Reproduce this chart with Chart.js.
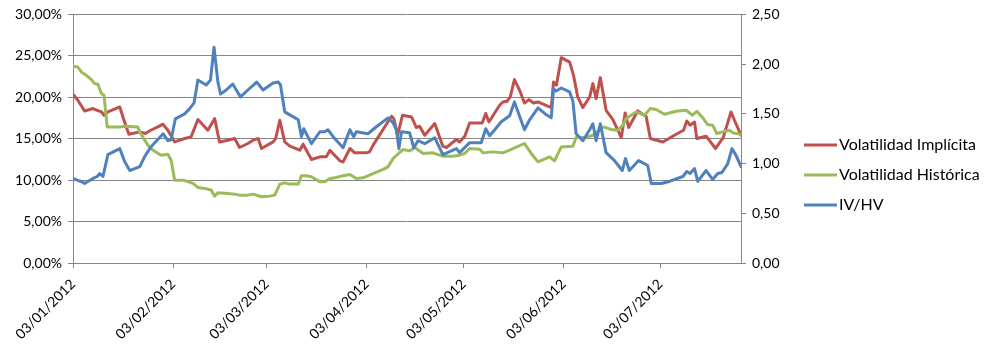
<!DOCTYPE html>
<html>
<head>
<meta charset="utf-8">
<script src="https://cdn.jsdelivr.net/npm/chart.js@4"></script>
<style>
  html, body { margin: 0; padding: 0; background: #fff; }
  #wrap { width: 989px; height: 351px; }
</style>
</head>
<body>
<div id="wrap"><canvas id="volChart" width="989" height="351"></canvas></div>
<script>
// Eje X: días desde el 03/01/2012
const tickDays = [0, 31, 60, 91, 121, 152, 182];
const tickLabels = ['03/01/2012', '03/02/2012', '03/03/2012', '03/04/2012', '03/05/2012', '03/06/2012', '03/07/2012'];

// Volatilidad Implícita (%)
const ivDays = [0,1.5,3.6,6.2,7.5,8.8,9.6,10.8,14.5,15.8,17.3,20.7,22.4,24.1,26.3,27.9,29.4,31.5,34.6,36.6,
  38.7,41.8,43.9,45.4,48,50.1,51.6,54.2,55.8,57.4,58.4,62,62.8,64.1,65.6,67.2,70.3,71.3,73.9,76.5,
  78.5,79.6,82.7,83.7,85.8,87.3,90.9,91.9,93,98.7,99.4,100.6,102.1,104.9,106.4,107.4,109,112.1,114.6,115.7,
  118.8,119.8,121.4,122.9,126.8,127.9,128.9,132.2,133.2,134.5,135.5,136.8,138.4,139.9,141.3,142.7,144.1,148.2,148.9,149.8,
  151.3,153.9,155.1,156.4,158,160.1,161.1,162.1,163.4,165.2,167.3,169.9,171.1,172.2,175,177.6,178.9,182.8,186.9,189.2,
  190.2,191.2,192.6,193.3,196.2,199.1,201.5,203.9,205.2,207];
const ivVals = [20.36,19.64,18.35,18.64,18.43,18.23,17.83,18.23,18.83,17.23,15.54,15.82,15.63,16.02,16.42,16.75,16.02,14.61,15.02,15.22,
  17.31,16.02,17.43,14.61,14.82,15.02,13.94,14.42,14.82,15.02,13.82,14.61,15.02,17.23,14.61,14.10,13.61,14.34,12.49,12.81,
  12.81,13.61,12.33,12.20,13.82,13.29,13.29,13.41,14.22,17.71,17.43,15.42,17.83,17.63,16.35,16.51,15.42,16.83,14.10,13.94,
  14.90,14.61,15.30,16.90,16.90,18.04,17.02,19.04,19.43,19.52,20.04,22.13,20.84,19.31,19.72,19.31,19.43,18.76,21.84,21.45,
  24.78,24.25,22.65,20.04,18.76,20.04,21.65,19.84,22.37,18.43,17.31,15.14,18.11,16.35,18.35,17.71,15.02,14.61,15.54,16.02,
  17.14,16.63,17.02,15.02,15.30,13.82,15.14,18.23,17.02,15.42];

// Volatilidad Histórica (%)
const hvDays = [0,1.5,2.6,4.1,5.7,6.7,7.7,8.8,9.6,10.6,14.5,16,20.1,20.7,23.2,24.8,27.3,29.4,30.4,31.5,
  34.1,37.2,38.7,40.8,42.8,43.9,44.9,48,50.1,51.6,54.2,55.8,57.4,58.4,61,62.5,64.1,65.6,67.2,69.8,
  70.8,72.4,73.9,76.5,78,79.6,81.6,83.7,85.8,87.8,89.9,91.9,93.5,96.1,97.6,99.2,102.3,104.3,105.9,108.5,
  111.5,114.6,117.7,119.8,121.4,122.9,126,127.1,130.1,133.2,135.3,139.9,142,144.1,147.7,149.2,151.3,154.9,155.9,158.8,
  161.1,164.4,166.8,168.8,170.4,171.4,174.5,177.1,178.9,180.7,183.3,186.9,190,192,193.3,195.1,196.7,198.2,199.5,202.4,
  203.4,204.6,207];
const hvVals = [23.73,23.65,23.05,22.65,22.13,21.65,21.57,20.45,20.24,16.42,16.42,16.51,16.42,15.82,14.22,13.61,13.01,13.13,12.41,10.0,
  10.0,9.60,9.12,9.0,8.80,8.07,8.47,8.40,8.31,8.19,8.19,8.31,8.11,7.99,8.07,8.19,9.52,9.67,9.52,9.52,
  10.52,10.52,10.40,9.80,9.80,10.20,10.33,10.52,10.69,10.20,10.28,10.60,10.88,11.29,11.60,12.61,13.70,13.53,13.94,13.22,
  13.29,12.89,12.89,13.01,13.22,13.82,13.73,13.29,13.41,13.29,13.61,14.42,13.22,12.20,12.81,12.33,14.01,14.10,15.14,15.14,
  15.42,16.42,16.11,16.02,16.63,17.43,18.23,17.83,18.64,18.52,17.95,18.31,18.43,17.83,18.31,17.55,16.71,16.63,15.63,15.94,
  16.02,15.70,15.54];

// IV/HV (eje derecho)
const ratioDays = [0,1.5,2.6,3.6,4.6,6.2,7.5,8.3,9.3,10.8,14.5,16,17.6,20.7,22.2,24.2,27.9,29.4,30.4,31.7,
  34.6,36.1,37.5,38.7,41.3,42.6,43.7,44.9,45.7,47.5,49.5,51.9,54.2,56.9,58.9,62,63.6,64.3,65.6,67.2,
  69.8,70.8,71.5,73.9,76.5,78,79,80.6,83.7,85.8,87,87.8,91.4,94,97.6,99.2,100.2,101,101.8,104.3,
  105.6,106.9,109,112.1,114.6,118.8,119.8,122.9,126.5,127.9,129.1,130.7,132.7,135.3,136.8,139.9,141.5,144.1,146.7,148.2,
  148.9,149.7,151.3,153.9,154.9,155.9,158,160.1,161.1,162.1,163.4,165.2,167.8,170.2,171.2,172.4,175.3,178.1,179.2,182.3,
  184.8,189,190.2,191.2,192.6,193.6,196.2,198.2,199.8,201.1,202.9,204.2,205.5,207];
const ratioVals = [0.85,0.83,0.82,0.80,0.82,0.85,0.87,0.90,0.87,1.09,1.15,1.02,0.93,0.97,1.07,1.17,1.30,1.23,1.24,1.45,
  1.50,1.55,1.61,1.84,1.79,1.84,2.17,1.82,1.70,1.74,1.80,1.67,1.74,1.82,1.74,1.81,1.82,1.79,1.52,1.49,
  1.44,1.27,1.35,1.20,1.32,1.32,1.34,1.27,1.16,1.34,1.27,1.32,1.30,1.37,1.46,1.41,1.34,1.15,1.32,1.31,
  1.16,1.23,1.20,1.26,1.09,1.15,1.11,1.21,1.21,1.35,1.28,1.34,1.42,1.48,1.62,1.34,1.44,1.56,1.49,1.46,
  1.75,1.73,1.76,1.72,1.63,1.30,1.23,1.34,1.40,1.23,1.40,1.11,1.03,0.93,1.05,0.93,1.03,0.98,0.80,0.80,
  0.82,0.87,0.92,0.90,0.95,0.82,0.93,0.84,0.90,0.91,1.00,1.15,1.08,0.97];

const gridGray = '#868686';
const baseFont = { family: 'Lato, "Liberation Sans", sans-serif', size: 14 };

function toPoints(days, vals) {
  return days.map((d, i) => ({ x: d, y: vals[i] }));
}

function comma(v) {
  return v.toFixed(2).replace('.', ',');
}

// Leyenda dibujada a mano a la derecha
const sideLegend = {
  id: 'sideLegend',
  afterDraw(chart) {
    const ctx = chart.ctx;
    const rows = [145, 175, 205];
    ctx.save();
    ctx.font = '16px ' + baseFont.family;
    ctx.textBaseline = 'middle';
    ctx.fillStyle = '#000';
    chart.data.datasets.forEach((ds, i) => {
      ctx.strokeStyle = ds.borderColor;
      ctx.lineWidth = 3;
      ctx.beginPath();
      ctx.moveTo(804, rows[i]);
      ctx.lineTo(837, rows[i]);
      ctx.stroke();
      ctx.fillText(ds.label, 839, rows[i]);
    });
    ctx.restore();
  }
};

new Chart(document.getElementById('volChart'), {
  type: 'line',
  data: {
    datasets: [
      {
        label: 'Volatilidad Implícita',
        data: toPoints(ivDays, ivVals),
        borderColor: '#C0504D',
        yAxisID: 'y',
        order: 2
      },
      {
        label: 'Volatilidad Histórica',
        data: toPoints(hvDays, hvVals),
        borderColor: '#9BBB59',
        yAxisID: 'y',
        order: 1
      },
      {
        label: 'IV/HV',
        data: toPoints(ratioDays, ratioVals),
        borderColor: '#4F81BD',
        yAxisID: 'y1',
        order: 0
      }
    ]
  },
  options: {
    responsive: false,
    animation: false,
    devicePixelRatio: 1,
    elements: {
      line: { borderWidth: 3, tension: 0, borderJoinStyle: 'round', borderCapStyle: 'round' },
      point: { radius: 0 }
    },
    layout: { padding: { top: 14, right: 188, left: 0, bottom: 0 } },
    plugins: {
      legend: { display: false },
      tooltip: { enabled: false }
    },
    scales: {
      x: {
        type: 'linear',
        min: 0,
        max: 207,
        afterBuildTicks: s => { s.ticks = tickDays.map(v => ({ value: v })); },
        afterFit: s => { s.height = 88; },
        ticks: {
          autoSkip: false,
          minRotation: 45,
          maxRotation: 45,
          padding: 8,
          color: '#000',
          font: baseFont,
          callback: (v, i) => tickLabels[i]
        },
        grid: { drawOnChartArea: false, drawTicks: true, tickLength: 5, color: gridGray },
        border: { color: gridGray }
      },
      y: {
        position: 'left',
        min: 0,
        max: 30,
        afterFit: s => { s.width = 73; },
        ticks: {
          stepSize: 5,
          padding: 6,
          color: '#000',
          font: baseFont,
          callback: v => comma(v) + '%'
        },
        grid: { color: gridGray, tickLength: 5 },
        border: { color: gridGray }
      },
      y1: {
        position: 'right',
        min: 0,
        max: 2.5,
        afterFit: s => { s.width = 60; },
        ticks: {
          stepSize: 0.5,
          padding: 6,
          color: '#000',
          font: baseFont,
          callback: v => comma(v)
        },
        grid: { drawOnChartArea: false, tickLength: 5, color: gridGray },
        border: { color: gridGray }
      }
    }
  },
  plugins: [sideLegend]
});
</script>
</body>
</html>
